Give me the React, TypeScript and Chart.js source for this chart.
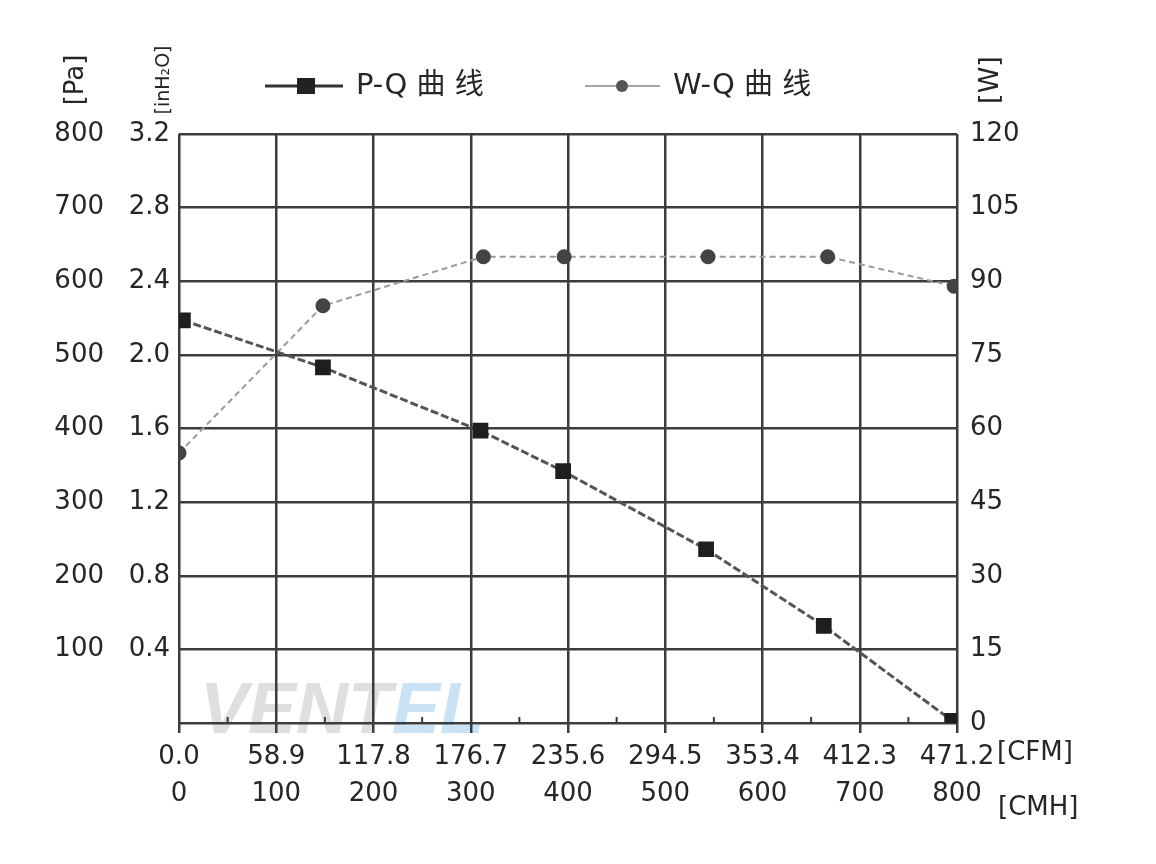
import React, { useEffect, useRef } from 'react';
import { Chart, registerables } from 'chart.js';

Chart.register(...registerables);

// ---- tick labels ----
const CMH_TICKS = ['0', '100', '200', '300', '400', '500', '600', '700', '800'];
const CFM_TICKS = ['0.0', '58.9', '117.8', '176.7', '235.6', '294.5', '353.4', '412.3', '471.2'];
const PA_TICKS = ['', '100', '200', '300', '400', '500', '600', '700', '800'];
const INH2O_TICKS = ['', '0.4', '0.8', '1.2', '1.6', '2.0', '2.4', '2.8', '3.2'];
const W_TICKS = ['0', '15', '30', '45', '60', '75', '90', '105', '120'];

// ---- series ----
const PQ_FLOW = [4, 148, 310, 395, 542, 663, 795];
const PQ_PRESSURE = [547, 483, 397, 342, 236, 132, 3];
const WQ_FLOW = [0, 148, 313, 396, 544, 667, 797];
const WQ_POWER = [55, 85, 95, 95, 95, 95, 89];

const LEGEND_PQ = 'P-Q 曲 线';
const LEGEND_WQ = 'W-Q 曲 线';

const FONT = '"DejaVu Sans", "Noto Sans CJK SC", sans-serif';
const TEXT = '#262626';
const GRID = '#3c3c3c';

const decor = {
  id: 'decor',
  beforeDraw(chart: any) {
    const ctx = chart.ctx;
    ctx.save();
    ctx.fillStyle = '#fff';
    ctx.fillRect(0, 0, chart.width, chart.height);
    // faint watermark
    ctx.font = `italic bold 72px "Liberation Sans", sans-serif`;
    ctx.textBaseline = 'alphabetic';
    ctx.fillStyle = 'rgba(185,185,185,0.45)';
    ctx.fillText('VENT', 200, 733);
    const w = ctx.measureText('VENT').width;
    ctx.fillStyle = 'rgba(150,198,235,0.5)';
    ctx.fillText('EL', 200 + w, 733);
    ctx.restore();
  },
  afterDraw(chart: any) {
    const ctx = chart.ctx;
    const xs = chart.scales.x;
    const area = chart.chartArea;
    ctx.save();
    // minor ticks on x axis
    ctx.strokeStyle = GRID;
    ctx.lineWidth = 2;
    for (let i = 0; i < CMH_TICKS.length - 1; i++) {
      const a = xs.getPixelForValue(Number(CMH_TICKS[i]));
      const b = xs.getPixelForValue(Number(CMH_TICKS[i + 1]));
      const m = (a + b) / 2;
      ctx.beginPath();
      ctx.moveTo(m, area.bottom);
      ctx.lineTo(m, area.bottom - 6);
      ctx.stroke();
    }
    // legend
    ctx.textBaseline = 'middle';
    ctx.textAlign = 'left';
    const ly = 86;
    ctx.strokeStyle = '#333';
    ctx.lineWidth = 3;
    ctx.beginPath();
    ctx.moveTo(265, ly);
    ctx.lineTo(343, ly);
    ctx.stroke();
    ctx.fillStyle = '#222';
    ctx.fillRect(297, ly - 8, 18, 16);
    ctx.fillStyle = TEXT;
    ctx.font = `29px ${FONT}`;
    ctx.fillText(LEGEND_PQ, 356, ly);

    ctx.strokeStyle = '#888';
    ctx.lineWidth = 1.5;
    ctx.beginPath();
    ctx.moveTo(585, ly);
    ctx.lineTo(660, ly);
    ctx.stroke();
    ctx.fillStyle = '#555';
    ctx.beginPath();
    ctx.arc(622, ly, 6, 0, Math.PI * 2);
    ctx.fill();
    ctx.fillStyle = TEXT;
    ctx.fillText(LEGEND_WQ, 673, ly);

    // axis unit titles (rotated)
    const rot = (t: string, x: number, y: number, size: number) => {
      ctx.save();
      ctx.translate(x, y);
      ctx.rotate(-Math.PI / 2);
      ctx.textAlign = 'center';
      ctx.textBaseline = 'middle';
      ctx.font = `${size}px ${FONT}`;
      ctx.fillStyle = TEXT;
      ctx.fillText(t, 0, 0);
      ctx.restore();
    };
    rot('[Pa]', 76, 80, 26);
    rot('[inH₂O]', 164, 80, 19);
    rot('[W]', 991, 80, 27);

    // x unit labels
    ctx.font = `26px ${FONT}`;
    ctx.fillStyle = TEXT;
    ctx.textAlign = 'left';
    ctx.textBaseline = 'middle';
    ctx.fillText('[CFM]', 997, 753);
    ctx.fillText('[CMH]', 998, 808);
    ctx.restore();
  },
};

export default function App() {
  const ref = useRef<HTMLCanvasElement | null>(null);
  useEffect(() => {
    if (!ref.current) return;
    const tickFont = { family: FONT, size: 26 };
    const chart = new Chart(ref.current, {
      type: 'line',
      data: {
        datasets: [
          {
            label: 'P-Q',
            data: PQ_FLOW.map((x, i) => ({ x, y: PQ_PRESSURE[i] })),
            yAxisID: 'yPa',
            borderColor: '#555',
            borderWidth: 3,
            borderDash: [8, 3],
            pointStyle: 'rect',
            pointRadius: 9,
            pointBackgroundColor: '#1e1e1e',
            pointBorderColor: '#1e1e1e',
            tension: 0,
          },
          {
            label: 'W-Q',
            data: WQ_FLOW.map((x, i) => ({ x, y: WQ_POWER[i] })),
            yAxisID: 'yW',
            borderColor: '#9a9a9a',
            borderWidth: 2,
            borderDash: [6, 4],
            pointStyle: 'circle',
            pointRadius: 6.5,
            pointBackgroundColor: '#444',
            pointBorderColor: '#444',
            tension: 0,
          },
        ],
      },
      options: {
        animation: false,
        responsive: true,
        maintainAspectRatio: false,
        layout: { padding: { left: 40, right: 0, top: 134, bottom: 30 } },
        plugins: { legend: { display: false }, tooltip: { enabled: false } },
        scales: {
          x: {
            type: 'linear',
            min: 0,
            max: 800,
            afterBuildTicks: (s: any) => {
              s.ticks = CMH_TICKS.map((v) => ({ value: Number(v) }));
            },
            afterFit: (s: any) => {
              s.height = 111;
            },
            grid: { color: GRID, lineWidth: 2.5, drawTicks: true, tickLength: 10, tickColor: GRID },
            border: { display: false },
            ticks: {
              autoSkip: false,
              maxRotation: 0,
              padding: 6,
              color: TEXT,
              font: { ...tickFont, lineHeight: 1.42 },
              callback: (v: any) => {
                const i = CMH_TICKS.indexOf(String(v));
                return i >= 0 ? [CFM_TICKS[i], CMH_TICKS[i]] : '';
              },
            },
          },
          yPa: {
            type: 'linear',
            position: 'left',
            weight: 1,
            min: 0,
            max: 800,
            afterBuildTicks: (s: any) => {
              s.ticks = PA_TICKS.map((_, i) => ({ value: i * 100 }));
            },
            afterFit: (s: any) => {
              s.width = 70;
            },
            grid: { color: GRID, lineWidth: 2.5, drawTicks: false },
            border: { display: false },
            ticks: {
              padding: 6,
              color: TEXT,
              font: tickFont,
              callback: (_v: any, i: number) => PA_TICKS[i],
            },
          },
          yIn: {
            type: 'linear',
            position: 'left',
            weight: 0,
            min: 0,
            max: 800,
            afterBuildTicks: (s: any) => {
              s.ticks = INH2O_TICKS.map((_, i) => ({ value: i * 100 }));
            },
            afterFit: (s: any) => {
              s.width = 69;
            },
            grid: { display: false, drawTicks: false },
            border: { display: false },
            ticks: {
              padding: 9,
              color: TEXT,
              font: tickFont,
              callback: (_v: any, i: number) => INH2O_TICKS[i],
            },
          },
          yW: {
            type: 'linear',
            position: 'right',
            min: 0,
            max: 120,
            afterBuildTicks: (s: any) => {
              s.ticks = W_TICKS.map((v) => ({ value: Number(v) }));
            },
            afterFit: (s: any) => {
              s.width = 199;
            },
            grid: { display: false, drawTicks: false },
            border: { display: false },
            ticks: {
              padding: 13,
              color: TEXT,
              font: tickFont,
              callback: (_v: any, i: number) => W_TICKS[i],
            },
          },
        },
      },
      plugins: [decor],
    } as any);
    return () => chart.destroy();
  }, []);
  return (
    <div style={{ position: 'absolute', left: 0, top: 0, width: 1156, height: 864 }}>
      <canvas ref={ref} />
    </div>
  );
}
